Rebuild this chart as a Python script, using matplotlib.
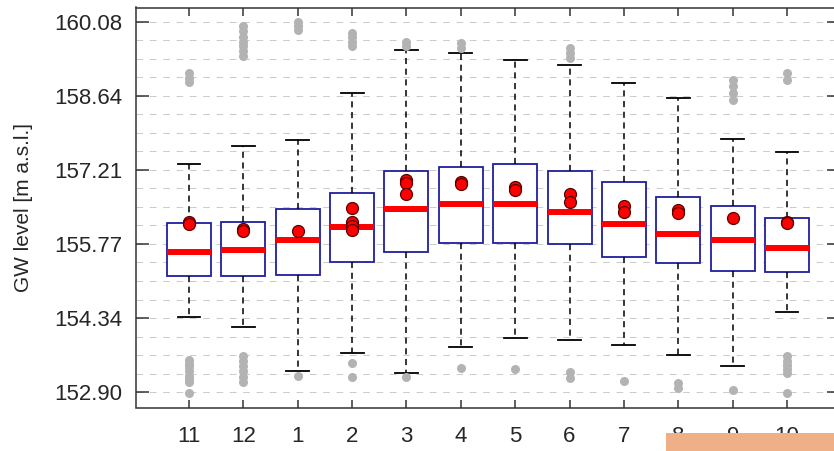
import numpy as np
import matplotlib
matplotlib.use('Agg')
import matplotlib.pyplot as plt
from matplotlib.patches import Rectangle
from matplotlib.ticker import FixedLocator

plt.rcParams['font.family'] = ['Liberation Sans', 'DejaVu Sans']

# monthly GW level stats (hydrological year, Nov..Oct)
months = ['11', '12', '1', '2', '3', '4', '5', '6', '7', '8', '9', '10']
q1 = [155.15, 155.15, 155.18, 155.43, 155.62, 155.79, 155.79, 155.77, 155.51, 155.41, 155.25, 155.22]
med = [155.62, 155.66, 155.85, 156.11, 156.45, 156.55, 156.55, 156.39, 156.16, 155.97, 155.84, 155.70]
q3 = [156.17, 156.20, 156.46, 156.76, 157.19, 157.26, 157.32, 157.19, 156.97, 156.68, 156.50, 156.27]
whislo = [154.35, 154.17, 153.31, 153.65, 153.26, 153.78, 153.94, 153.91, 153.81, 153.62, 153.40, 154.46]
whishi = [157.32, 157.68, 157.78, 158.70, 159.54, 159.47, 159.34, 159.25, 158.89, 158.60, 157.80, 157.55]
fliers = [
    [159.09, 159.00, 158.92, 153.52, 153.45, 153.38, 153.30, 153.22, 153.15, 153.09, 152.89],
    [160.00, 159.90, 159.79, 159.70, 159.62, 159.52, 159.42, 153.59, 153.50, 153.40, 153.30, 153.20, 153.10],
    [160.08, 160.00, 159.92, 153.22],
    [159.86, 159.78, 159.70, 159.62, 153.47, 153.19],
    [159.70, 159.62, 153.20],
    [159.68, 159.58, 153.37],
    [153.34],
    [159.58, 159.48, 159.38, 153.29, 153.17],
    [153.11],
    [153.07, 152.98],
    [158.95, 158.83, 158.70, 158.57, 152.93],
    [159.09, 158.96, 153.59, 153.50, 153.42, 153.34, 153.26, 152.89],
]
means = [
    [156.20, 156.16],
    [156.06, 156.02],
    [156.02],
    [156.47, 156.20, 156.12, 156.04],
    [157.01, 156.95, 156.74],
    [156.98, 156.94],
    [156.87, 156.81],
    [156.74, 156.59],
    [156.50, 156.39],
    [156.43, 156.37],
    [156.27],
    [156.20, 156.17],
]
ymin, ymax = 152.90, 160.08

fig = plt.figure(figsize=(8.34, 4.51), dpi=100)
ax = fig.add_axes([136 / 834, (451 - 407.5) / 451, 704 / 834, 400 / 451])

pos = np.arange(1, len(months) + 1)
stats = []
for i in range(len(months)):
    stats.append(dict(med=med[i], q1=q1[i], q3=q3[i], whislo=whislo[i],
                      whishi=whishi[i], fliers=fliers[i], label=months[i]))

ax.bxp(stats, positions=pos, widths=0.81, capwidths=0.42, patch_artist=True,
       boxprops=dict(facecolor='white', edgecolor='#1f1f9e', linewidth=1.3),
       medianprops=dict(color='#ff0000', linewidth=4.3, solid_capstyle='butt'),
       whiskerprops=dict(color='black', linestyle=(0, (4, 3)), linewidth=1.1),
       capprops=dict(color='black', linewidth=1.3),
       flierprops=dict(marker='o', markerfacecolor='#b3b3b3', markeredgecolor='none',
                       markersize=6.5),
       zorder=3)

for i, m in enumerate(means):
    ax.plot([pos[i]] * len(m), m, 'o', color='#ff0000', markeredgecolor='#5a0000',
            markeredgewidth=0.9, markersize=8.6, zorder=5)

major = np.linspace(ymin, ymax, 6)
minor = np.linspace(ymin, ymax, 21)
ax.set_ylim(ymin - 0.30, ymax + 0.28)
ax.set_xlim(0.025, 12.975)
ax.set_yticks(major)
ax.set_yticklabels(['%.2f' % v for v in major])
ax.yaxis.set_minor_locator(FixedLocator(minor))
ax.set_xticks(pos)
ax.set_xticklabels(months)
for v in minor:
    ax.axhline(v, color='#cccccc', linewidth=0.75, linestyle=(0, (6.4, 6.4)), zorder=1)

ax.tick_params(axis='y', which='major', direction='in', length=9.5, width=1.1,
               color='#333333', labelsize=16, labelcolor='#262626', pad=10,
               right=True)
ax.tick_params(axis='y', which='minor', length=0)
ax.tick_params(axis='x', direction='in', length=6, width=1.1, color='#333333',
               labelsize=16, labelcolor='#262626', pad=13, top=True)
for s in ax.spines.values():
    s.set_color('#333333')
    s.set_linewidth(1.1)
# right frame sits just past the picture edge
ax.spines['right'].set_visible(False)

ax.set_ylabel('GW level [m a.s.l.]', fontsize=15, color='#262626')
ax.yaxis.set_label_coords(-0.146, 0.5)

fig.patches.append(Rectangle((666 / 834, 0), 168 / 834, 18 / 451,
                             transform=fig.transFigure, facecolor='#efb087',
                             edgecolor='none', zorder=10))

fig.savefig('out.png', dpi=100)
